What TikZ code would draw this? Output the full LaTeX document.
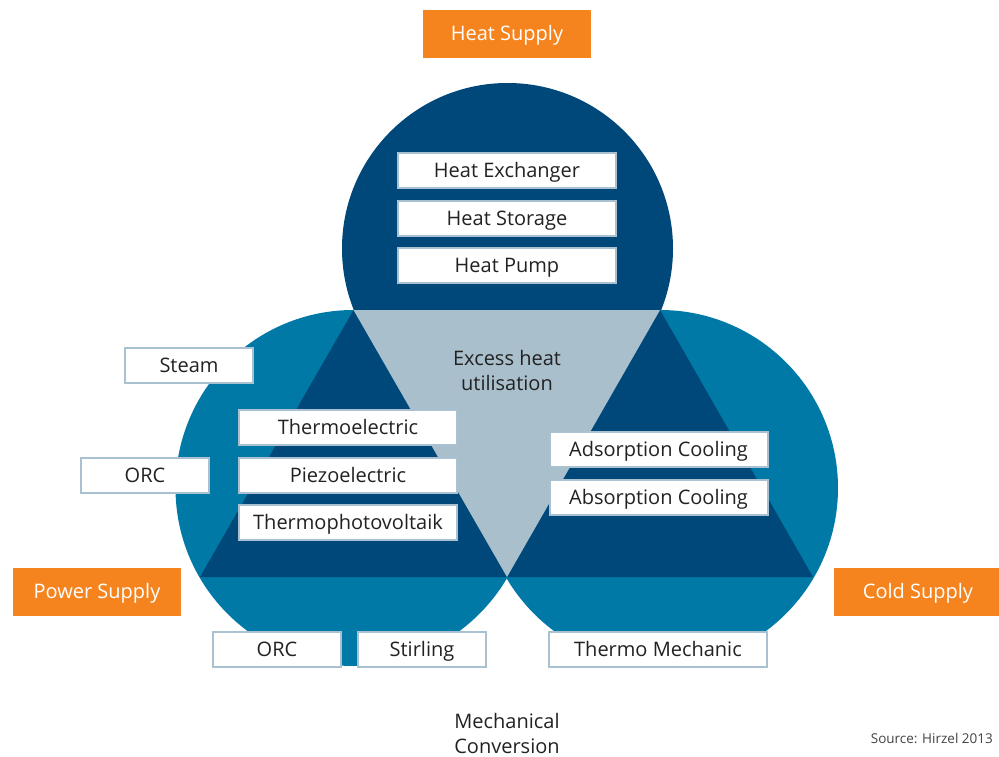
\documentclass[tikz,border=0pt]{standalone}
\usepackage{fontspec}
\setmainfont{Open Sans}
\usepackage{xcolor}
\usepackage{tikz}
\usetikzlibrary{positioning}
\definecolor{deepblue}{HTML}{00477A}
\definecolor{midblue}{HTML}{0079A6}
\definecolor{paleblue}{HTML}{A9BFCC}
\definecolor{boxline}{HTML}{A9C1D0}
\definecolor{supplyorange}{HTML}{F5841F}
\definecolor{inkgray}{HTML}{222222}
\tikzset{
  item/.style       = {rectangle, draw=boxline, line width=2pt, fill=white,
                       text=inkgray, minimum height=35pt, inner sep=0pt,
                       text height=18pt, text depth=4pt,
                       align=center, font=\fontsize{20}{24}\selectfont},
  wideitem/.style   = {item, minimum width=218pt},
  narrowitem/.style = {item, minimum width=128pt},
  supply/.style     = {rectangle, fill=supplyorange, text=white,
                       minimum width=168pt, minimum height=48pt, inner sep=0pt,
                       text height=18pt, text depth=4pt,
                       font=\fontsize{20}{24}\selectfont},
  note/.style       = {align=center, text=inkgray, inner sep=0pt,
                       font=\fontsize{20}{25}\selectfont},
  source/.style     = {text=inkgray!85, inner sep=0pt,
                       font=\fontsize{13.5}{16}\selectfont},
}

\begin{document}
\begin{tikzpicture}[x=1pt, y=-1pt, node distance=10.5pt and 15pt]
  \useasboundingbox (0,0) rectangle (999,757);

  % corners of the triangles
  \coordinate (tl) at (353.5,310);
  \coordinate (tr) at (660,310);
  \coordinate (bm) at (507,577);
  \coordinate (bl) at (200,577);
  \coordinate (br) at (813,577);

  % circles and triangles
  \fill[deepblue] (507.5,248.5) circle[radius=165.5pt];
  \fill[midblue] (353.5,488) circle[radius=178pt];
  \fill[midblue] (660,488) circle[radius=178pt];
  \fill[deepblue] (tl) -- (bl) -- (bm) -- cycle;
  \fill[deepblue] (tr) -- (bm) -- (br) -- cycle;
  \fill[paleblue] (tl) -- (tr) -- (bm) -- cycle;

  % supply labels
  \node[supply] (heat)  at (507,34)    {Heat Supply};
  \node[supply] (power) at (97,591.5)  {Power Supply};
  \node[supply] (cold)  at (918,591.5) {Cold Supply};

  % heat
  \node[wideitem] (hex) at (507,170.5) {Heat Exchanger};
  \node[wideitem,below=of hex] (hstore) {Heat Storage};
  \node[wideitem,below=of hstore] (hpump) {Heat Pump};
  \node[note] (excess) at (507,370) {Excess heat\\utilisation};

  % power
  \node[narrowitem] (steam) at (189,365.5) {Steam};
  \node[narrowitem] (orcl) at (145,475) {ORC};
  \node[wideitem] (thel) at (348,427.5) {Thermoelectric};
  \node[wideitem,below=of thel] (piezo) {Piezoelectric};
  \node[wideitem,below=of piezo] (tpv) {Thermophotovoltaik};

  % cold
  \node[wideitem] (adsorp) at (658.5,449.5) {Adsorption Cooling};
  \node[wideitem,below=of adsorp] (absorp) {Absorption Cooling};

  % mechanical
  \node[narrowitem] (orcb) at (277,649.5) {ORC};
  \node[narrowitem,right=of orcb] (stirling) {Stirling};
  \node[wideitem] (thmech) at (658,649.5) {Thermo Mechanic};
  \node[note] (mech) at (507,733.5) {Mechanical\\Conversion};

  \node[source,anchor=east] (src) at (993,738) {Source: Hirzel 2013};
\end{tikzpicture}
\end{document}
